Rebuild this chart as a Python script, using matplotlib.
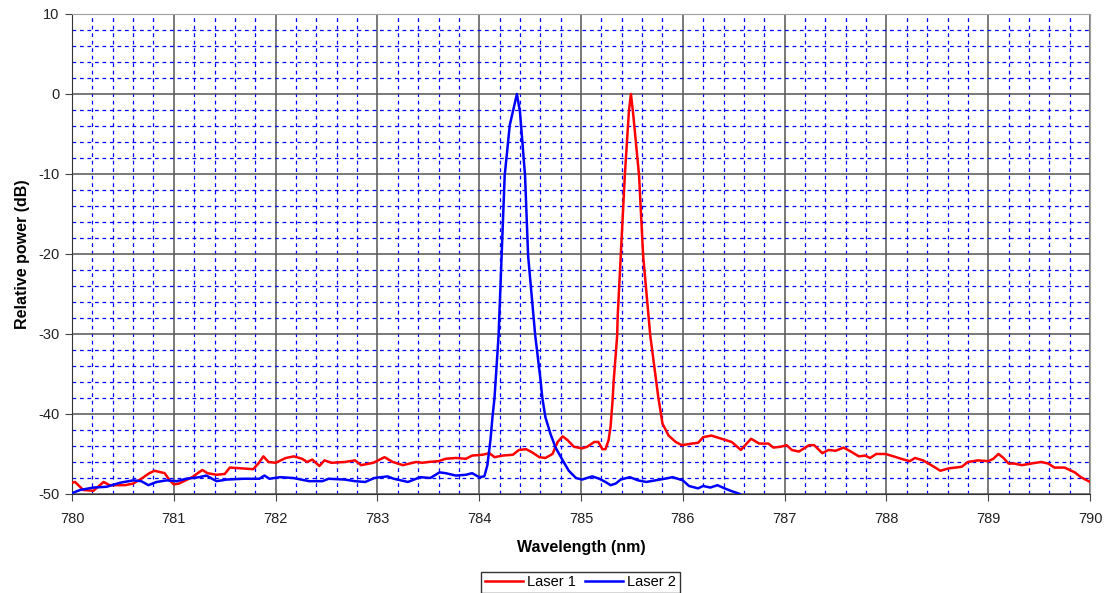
import matplotlib.pyplot as plt
from matplotlib.ticker import MultipleLocator

plt.rcParams['font.family'] = ['Liberation Sans', 'DejaVu Sans']
plt.rcParams['axes.unicode_minus'] = False

# Laser 1 (red)
wl1 = [780.00, 780.03, 780.11, 780.21, 780.31, 780.37, 780.52, 780.60, 780.68, 780.76,
       780.81, 780.91, 780.96, 781.00, 781.05, 781.18, 781.28, 781.33, 781.42, 781.50,
       781.55, 781.66, 781.78, 781.83, 781.88, 781.93, 782.00, 782.10, 782.18, 782.26,
       782.31, 782.36, 782.43, 782.48, 782.55, 782.68, 782.78, 782.84, 782.96, 783.07,
       783.15, 783.25, 783.38, 783.44, 783.50, 783.60, 783.67, 783.77, 783.87, 783.93,
       784.03, 784.10, 784.15, 784.23, 784.33, 784.39, 784.46, 784.52, 784.59, 784.65,
       784.72, 784.77, 784.82, 784.87, 784.93, 785.01, 785.06, 785.13, 785.17, 785.21,
       785.24, 785.27, 785.29, 785.31, 785.32, 785.355, 785.36, 785.39, 785.43, 785.47,
       785.49, 785.51, 785.57, 785.61, 785.68, 785.76, 785.80, 785.86, 785.93, 785.99,
       786.09, 786.15, 786.20, 786.28, 786.38, 786.48, 786.57, 786.67, 786.75, 786.84,
       786.89, 786.96, 787.02, 787.07, 787.14, 787.24, 787.29, 787.37, 787.43, 787.50,
       787.58, 787.65, 787.73, 787.79, 787.84, 787.90, 787.99, 788.07, 788.17, 788.23,
       788.28, 788.36, 788.44, 788.53, 788.61, 788.74, 788.80, 788.90, 789.00, 789.05,
       789.10, 789.15, 789.20, 789.26, 789.33, 789.42, 789.52, 789.59, 789.65, 789.75,
       789.85, 789.91, 790.00]
p1 = [-48.6, -48.5, -49.5, -49.6, -48.5, -48.9, -48.9, -48.7, -48.1, -47.4,
      -47.1, -47.4, -48.3, -48.8, -48.7, -47.9, -47.0, -47.4, -47.6, -47.5,
      -46.7, -46.8, -46.9, -46.2, -45.3, -46.0, -46.1, -45.5, -45.3, -45.6,
      -46.0, -45.7, -46.5, -45.8, -46.1, -46.0, -45.8, -46.4, -46.1, -45.4,
      -46.0, -46.4, -46.0, -46.1, -46.0, -45.9, -45.6, -45.5, -45.6, -45.2,
      -45.1, -44.9, -45.4, -45.2, -45.1, -44.5, -44.4, -44.8, -45.4, -45.5,
      -45.0, -43.5, -42.8, -43.3, -44.1, -44.3, -44.1, -43.5, -43.5, -44.4,
      -44.4, -43.3, -41.6, -38.3, -36.0, -30.2, -27.8, -20.2, -10.2, -2.2,
      0.0, -2.2, -10.2, -20.2, -30.2, -38.0, -41.2, -42.7, -43.5, -43.9,
      -43.7, -43.6, -42.9, -42.7, -43.1, -43.5, -44.5, -43.1, -43.7, -43.7,
      -44.2, -44.1, -43.9, -44.5, -44.7, -43.9, -43.9, -44.9, -44.5, -44.6,
      -44.2, -44.7, -45.3, -45.2, -45.5, -45.0, -45.0, -45.3, -45.7, -45.9,
      -45.5, -45.8, -46.4, -47.1, -46.8, -46.6, -46.0, -45.8, -45.9, -45.6,
      -45.0, -45.5, -46.2, -46.2, -46.4, -46.2, -46.0, -46.2, -46.7, -46.7,
      -47.3, -47.9, -48.5]

# Laser 2 (blue)
wl2 = [780.00, 780.08, 780.21, 780.34, 780.47, 780.60, 780.68, 780.75, 780.83, 780.93,
       781.03, 781.12, 781.25, 781.32, 781.42, 781.52, 781.68, 781.84, 781.89, 781.94,
       782.04, 782.17, 782.33, 782.46, 782.52, 782.68, 782.78, 782.88, 782.97, 783.10,
       783.16, 783.30, 783.42, 783.52, 783.61, 783.67, 783.77, 783.87, 783.93, 784.00,
       784.05, 784.08, 784.11, 784.13, 784.15, 784.19, 784.22, 784.25, 784.30, 784.37,
       784.40, 784.45, 784.48, 784.55, 784.60, 784.62, 784.65, 784.70, 784.75, 784.82,
       784.88, 784.95, 785.01, 785.11, 785.18, 785.24, 785.29, 785.34, 785.39, 785.48,
       785.56, 785.64, 785.73, 785.82, 785.90, 786.00, 786.06, 786.15, 786.20, 786.27,
       786.34, 786.41, 786.47, 786.56]
p2 = [-49.9, -49.5, -49.2, -49.1, -48.6, -48.3, -48.4, -48.9, -48.5, -48.3,
      -48.4, -48.1, -47.9, -47.7, -48.4, -48.2, -48.1, -48.1, -47.7, -48.1,
      -47.9, -48.0, -48.4, -48.4, -48.1, -48.2, -48.4, -48.5, -48.0, -47.8,
      -48.1, -48.5, -47.9, -48.0, -47.3, -47.4, -47.7, -47.6, -47.4, -47.9,
      -47.8, -46.4, -43.3, -40.4, -38.0, -30.2, -20.2, -10.2, -3.9, 0.0,
      -2.2, -10.2, -20.2, -30.2, -35.5, -38.0, -40.4, -42.5, -44.2, -45.8,
      -47.1, -48.0, -48.2, -47.8, -48.1, -48.5, -48.9, -48.7, -48.2, -47.9,
      -48.3, -48.5, -48.3, -48.1, -47.9, -48.3, -49.0, -49.3, -49.0, -49.2,
      -48.9, -49.3, -49.6, -50.0]

fig = plt.figure(figsize=(11.08, 5.93), dpi=100)
ax = fig.add_axes([0.065, 0.167, 0.9188, 0.8094])

ax.plot(wl1, p1, color='#ff0000', lw=1.8, label='Laser 1', zorder=3)
ax.plot(wl2, p2, color='#0000ff', lw=1.8, label='Laser 2', zorder=3)

ax.set_xlim(780, 790)
ax.set_ylim(-50, 10)
ax.xaxis.set_major_locator(MultipleLocator(1))
ax.xaxis.set_minor_locator(MultipleLocator(0.2))
ax.yaxis.set_major_locator(MultipleLocator(10))
ax.yaxis.set_minor_locator(MultipleLocator(2))

ax.grid(which='minor', color='#0000ff', linestyle=(0, (3, 3)), lw=0.9)
ax.grid(which='major', color='#555555', linestyle='-', lw=1.1)
ax.set_axisbelow(True)

ax.tick_params(which='major', direction='out', length=5, color='#444444',
               labelsize=10.5, labelcolor='#222222')
ax.tick_params(axis='x', pad=8)
ax.tick_params(axis='y', pad=4)
ax.tick_params(which='minor', length=0)

for side in ['left', 'bottom']:
    ax.spines[side].set_color('#333333')
for side in ['top', 'right']:
    ax.spines[side].set_color('#a0a0a0')

ax.set_xlabel('Wavelength (nm)', fontsize=11.5, fontweight='bold', labelpad=10)
ax.set_ylabel('Relative power (dB)', fontsize=11.5, fontweight='bold', labelpad=6)

leg = fig.legend(loc='lower center', bbox_to_anchor=(0.524, -0.005), ncol=2,
                 fontsize=10.5, fancybox=False, framealpha=1, edgecolor='#333333',
                 handlelength=2.6, handletextpad=0.3, columnspacing=0.6,
                 borderpad=0.25, borderaxespad=0.2)
leg.get_frame().set_linewidth(1)

fig.savefig('out.png', dpi=100)
